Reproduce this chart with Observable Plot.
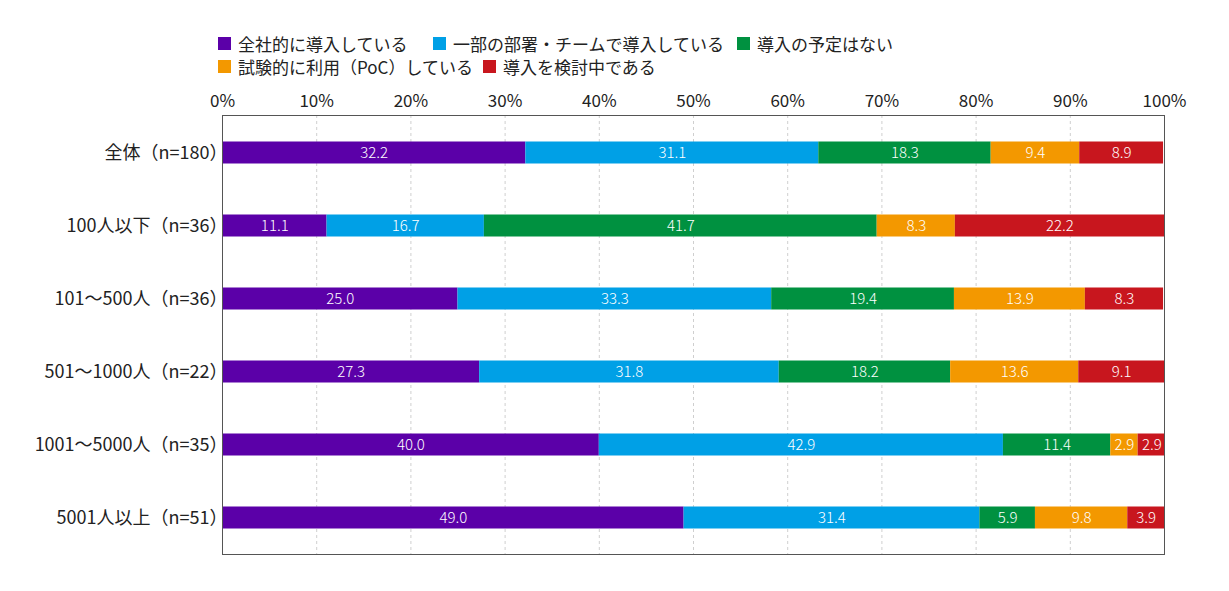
<!DOCTYPE html>
<html><head><meta charset="utf-8">
<script src="https://cdn.jsdelivr.net/npm/d3@7"></script>
<script src="https://cdn.jsdelivr.net/npm/@observablehq/plot@0.6"></script>
<style>
body{margin:0;background:#fff;font-family:"Noto Sans CJK JP",sans-serif;font-weight:400;}
#legend{position:relative;height:80px;}
.li{position:absolute;display:flex;align-items:center;font-size:17px;color:#222;white-space:nowrap;}
.sw{width:13px;height:13px;margin-right:7px;}
</style></head>
<body>
<div id="legend"></div>
<div id="chart"></div>
<script>
const categories = ["全体（n=180）","100人以下（n=36）","101～500人（n=36）","501～1000人（n=22）","1001～5000人（n=35）","5001人以上（n=51）"];
const seriesNames = ["全社的に導入している","一部の部署・チームで導入している","導入の予定はない","試験的に利用（PoC）している","導入を検討中である"];
const colors = ["#5b00a8","#00a0e6","#009140","#f39800","#c8161e"];
const zenshaValues = [32.2,11.1,25.0,27.3,40.0,49.0];
const ichibuValues = [31.1,16.7,33.3,31.8,42.9,31.4];
const yoteinashiValues = [18.3,41.7,19.4,18.2,11.4,5.9];
const shikenValues = [9.4,8.3,13.9,13.6,2.9,9.8];
const kentouValues = [8.9,22.2,8.3,9.1,2.9,3.9];
const xTicks = [0,10,20,30,40,50,60,70,80,90,100];

const seriesValues = [zenshaValues, ichibuValues, yoteinashiValues, shikenValues, kentouValues];
const data = [];
categories.forEach((c,i)=>{
  seriesNames.forEach((s,j)=>{
    data.push({cat:c, series:s, value:seriesValues[j][i]});
  });
});

// legend
const legendPos = [[218,43],[433,43],[737,43],[218,66],[483,66]];
const leg = document.getElementById("legend");
seriesNames.forEach((s,i)=>{
  const d = document.createElement("div");
  d.className="li";
  d.style.left = legendPos[i][0]+"px";
  d.style.top = (legendPos[i][1]-12)+"px";
  d.innerHTML = `<span class="sw" style="background:${colors[i]}"></span><span>${s}</span>`;
  leg.appendChild(d);
});

const chart = Plot.plot({
  width:1229, height:500,
  marginTop:35, marginLeft:222, marginRight:65, marginBottom:26,
  style:{fontFamily:'"Noto Sans CJK JP",sans-serif', fontSize:"17px", color:"#222", fontWeight:400},
  x:{domain:[0,100], label:null},
  y:{domain:categories, padding:0, label:null},
  color:{domain:seriesNames, range:colors},
  marks:[
    Plot.ruleX(xTicks.slice(1,-1), {stroke:"#cfcfcf", strokeDasharray:"3,3", strokeWidth:1}),
    Plot.barX(data, Plot.stackX({x:"value", y:"cat", fill:"series", insetTop:25.5, insetBottom:25.5})),
    Plot.text(data, Plot.stackX({x:"value", y:"cat", text:d=>d.value.toFixed(1), fill:"white", fontSize:15, fontWeight:300})),
    Plot.frame({stroke:"#555", strokeWidth:1}),
    Plot.axisX({anchor:"top", ticks:xTicks, tickSize:0, tickPadding:9, tickFormat:d=>d+"%", fontSize:17, label:null}),
    Plot.axisY({tickSize:0, tickPadding:-5, fontSize:18, label:null})
  ]
});
document.getElementById("chart").appendChild(chart);
</script>
</body></html>
